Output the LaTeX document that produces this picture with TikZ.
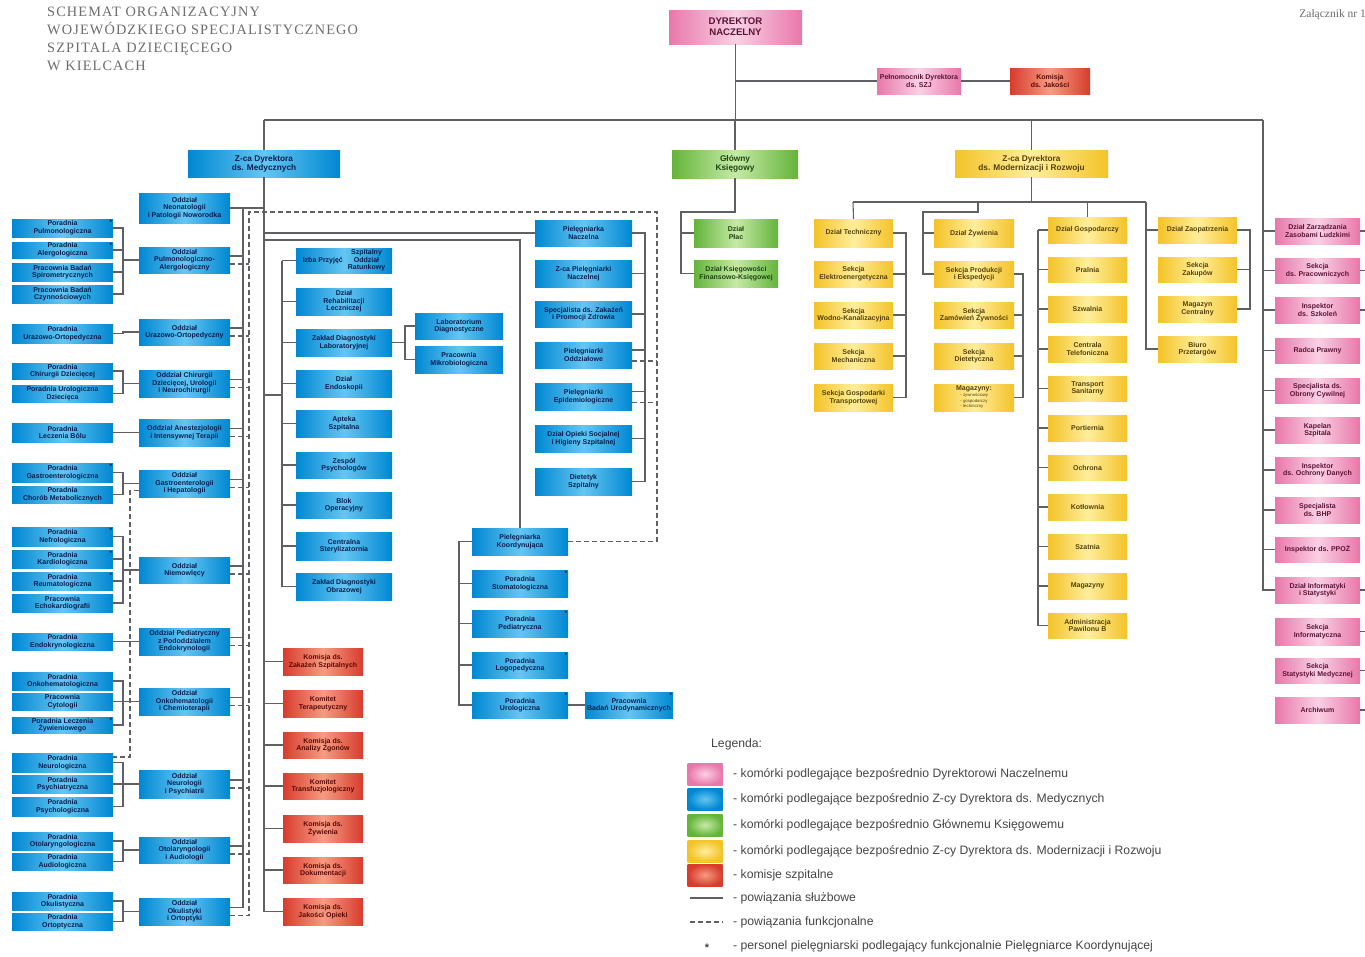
\documentclass[tikz,border=0pt]{standalone}
\usepackage{fontspec}
\setmainfont{Liberation Sans}
\newfontfamily\titf{Liberation Serif}[LetterSpace=8]
\newfontfamily\zalf{Liberation Serif}
\newfontfamily\bxfam{Liberation Sans}
\usetikzlibrary{calc}

\definecolor{lnC}{RGB}{95,95,100}
\definecolor{bE}{RGB}{0,135,210}
\definecolor{bM}{RGB}{100,198,242}
\definecolor{bTx}{RGB}{10,30,80}
\definecolor{pE}{RGB}{232,120,170}
\definecolor{pM}{RGB}{250,208,228}
\definecolor{pTx}{RGB}{90,20,55}
\definecolor{gE}{RGB}{100,180,60}
\definecolor{gM}{RGB}{198,234,165}
\definecolor{gTx}{RGB}{30,70,20}
\definecolor{yE}{RGB}{243,195,40}
\definecolor{yM}{RGB}{255,238,155}
\definecolor{yTx}{RGB}{85,65,10}
\definecolor{rE}{RGB}{215,60,45}
\definecolor{rM}{RGB}{246,155,130}
\definecolor{rTx}{RGB}{90,10,5}
\definecolor{txG}{RGB}{70,70,70}
\definecolor{tiG}{RGB}{110,110,110}

\tikzset{
  bxb/.style={draw=none, align=center, inner sep=0.5pt, font=\bxfam\bfseries\fontsize{7}{7.6}\selectfont},
  big/.style={font=\bxfam\bfseries\fontsize{8.3}{9.2}\selectfont},
  huge/.style={font=\bxfam\bfseries\fontsize{9.6}{11}\selectfont},
  blu/.style={bxb, left color=bE, right color=bE, middle color=bM, text=bTx},
  pnk/.style={bxb, left color=pE, right color=pE, middle color=pM, text=pTx},
  grn/.style={bxb, left color=gE, right color=gE, middle color=gM, text=gTx},
  ylw/.style={bxb, left color=yE, right color=yE, middle color=yM, text=yTx},
  kom/.style={bxb, left color=rE, right color=rE, middle color=rM, text=rTx},
  ast/.style={label={[anchor=north east, inner sep=0.8pt, font=\bxfam\bfseries\fontsize{6.5}{6.5}\selectfont, text=bTx]north east:*}},
  ln/.style={draw=lnC, line width=1.1pt},
  dl/.style={ln, dash pattern=on 5pt off 3pt},
  lgt/.style={anchor=west, inner sep=0pt, font=\fontsize{12.2}{14}\selectfont, text=txG},
  lgsq/.style={minimum width=35pt, minimum height=22pt, inner sep=0pt, draw=none}
}

\newcommand\BX[7]{\node[#2, minimum width={(#5-#3)*1pt}, minimum height={(#6-#4)*1pt}] (#1) at ({(#3+#5)/2},{(#4+#6)/2}) {#7};}

\begin{document}
\begin{tikzpicture}[x=1pt,y=-1pt]
\useasboundingbox (0,0) rectangle (1365,956);
\fill[white] (0,0) rectangle (1365,956);

% title
\node[anchor=north west, inner sep=0pt, align=left, text=tiG, font=\titf\fontsize{14.3}{18}\selectfont] (title) at (47,7)
  {SCHEMAT ORGANIZACYJNY\\WOJEWÓDZKIEGO SPECJALISTYCZNEGO\\SZPITALA DZIECIĘCEGO\\W KIELCACH};
\node[anchor=north east, inner sep=0pt, text=tiG, font=\zalf\fontsize{11.5}{13}\selectfont] (zal) at (1366,9) {Załącznik nr 1};

% top level
\BX{dn}{pnk,huge}{669}{10}{802}{44}{DYREKTOR\\NACZELNY}
\BX{ps}{pnk}{877}{68}{961}{94}{Pełnomocnik Dyrektora\\ds. SZJ}
\BX{ks}{kom}{1010}{68}{1090}{94}{Komisja\\ds. Jakości}
\BX{zm}{blu,big}{188}{150}{340}{177}{Z-ca Dyrektora\\ds. Medycznych}
\BX{g0}{grn,big}{672}{150}{798}{178}{Główny\\Księgowy}
\BX{y0}{ylw,big}{955}{150}{1108}{177}{Z-ca Dyrektora\\ds. Modernizacji i Rozwoju}

% left poradnie
\BX{p2a}{blu,ast}{12}{219}{113}{237}{Poradnia\\Pulmonologiczna}
\BX{p2b}{blu,ast}{12}{242}{113}{258}{Poradnia\\Alergologiczna}
\BX{p2c}{blu}{12}{263}{113}{281}{Pracownia Badań\\Spirometrycznych}
\BX{p2d}{blu}{12}{285}{113}{303}{Pracownia Badań\\Czynnościowych}
\BX{p3a}{blu}{12}{324}{113}{343}{Poradnia\\Urazowo-Ortopedyczna}
\BX{p4a}{blu}{12}{363}{113}{379}{Poradnia\\Chirurgii Dziecięcej}
\BX{p4b}{blu}{12}{385}{113}{402}{Poradnia Urologiczna\\Dziecięca}
\BX{p5a}{blu}{12}{423}{113}{442}{Poradnia\\Leczenia Bólu}
\BX{p6a}{blu,ast}{12}{463}{113}{482}{Poradnia\\Gastroenterologiczna}
\BX{p6b}{blu}{12}{486}{113}{503}{Poradnia\\Chorób Metabolicznych}
\BX{p7a}{blu,ast}{12}{527}{113}{546}{Poradnia\\Nefrologiczna}
\BX{p7b}{blu,ast}{12}{550}{113}{568}{Poradnia\\Kardiologiczna}
\BX{p7c}{blu,ast}{12}{572}{113}{590}{Poradnia\\Reumatologiczna}
\BX{p7d}{blu}{12}{594}{113}{612}{Pracownia\\Echokardiografii}
\BX{p8a}{blu}{12}{633}{113}{650}{Poradnia\\Endokrynologiczna}
\BX{p9a}{blu}{12}{672}{113}{690}{Poradnia\\Onkohematologiczna}
\BX{p9b}{blu}{12}{693}{113}{710}{Pracownia\\Cytologii}
\BX{p9c}{blu,ast}{12}{717}{113}{733}{Poradnia Leczenia\\Żywieniowego}
\BX{p10a}{blu}{12}{753}{113}{772}{Poradnia\\Neurologiczna}
\BX{p10b}{blu}{12}{775}{113}{793}{Poradnia\\Psychiatryczna}
\BX{p10c}{blu}{12}{797}{113}{816}{Poradnia\\Psychologiczna}
\BX{p11a}{blu}{12}{832}{113}{850}{Poradnia\\Otolaryngologiczna}
\BX{p11b}{blu}{12}{853}{113}{870}{Poradnia\\Audiologiczna}
\BX{p12a}{blu}{12}{892}{113}{910}{Poradnia\\Okulistyczna}
\BX{p12b}{blu}{12}{913}{113}{930}{Poradnia\\Ortoptyczna}

% oddzialy
\BX{o1}{blu}{139}{193}{230}{223}{Oddział\\Neonatologii\\i Patologii Noworodka}
\BX{o2}{blu}{139}{247}{230}{273}{Oddział\\Pulmonologiczno-\\Alergologiczny}
\BX{o3}{blu}{139}{319}{230}{345}{Oddział\\Urazowo-Ortopedyczny}
\BX{o4}{blu}{139}{370}{230}{397}{Oddział Chirurgii\\Dziecięcej, Urologii\\i Neurochirurgii}
\BX{o5}{blu}{139}{419}{230}{446}{Oddział Anestezjologii\\i Intensywnej Terapii}
\BX{o6}{blu}{139}{470}{230}{497}{Oddział\\Gastroenterologii\\i Hepatologii}
\BX{o7}{blu}{139}{557}{230}{583}{Oddział\\Niemowlęcy}
\BX{o8}{blu}{139}{628}{230}{655}{Oddział Pediatryczny\\z Pododdziałem\\Endokrynologii}
\BX{o9}{blu}{139}{688}{230}{715}{Oddział\\Onkohematologii\\i Chemioterapii}
\BX{o10}{blu}{139}{770}{230}{798}{Oddział\\Neurologii\\i Psychiatrii}
\BX{o11}{blu}{139}{837}{230}{863}{Oddział\\Otolaryngologii\\i Audiologii}
\BX{o12}{blu}{139}{898}{230}{925}{Oddział\\Okulistyki\\i Ortoptyki}

% middle column
\BX{m1}{blu}{296}{248}{392}{273}{Izba Przyjęć\hspace{5pt}\begin{tabular}{@{}c@{}}Szpitalny\\Oddział\\Ratunkowy\end{tabular}}
\BX{m2}{blu}{296}{288}{392}{315}{Dział\\Rehabilitacji\\Leczniczej}
\BX{m3}{blu}{296}{329}{392}{356}{Zakład Diagnostyki\\Laboratoryjnej}
\BX{m4}{blu}{296}{370}{392}{397}{Dział\\Endoskopii}
\BX{m5}{blu}{296}{410}{392}{437}{Apteka\\Szpitalna}
\BX{m6}{blu}{296}{452}{392}{478}{Zespół\\Psychologów}
\BX{m7}{blu}{296}{492}{392}{518}{Blok\\Operacyjny}
\BX{m8}{blu}{296}{532}{392}{560}{Centralna\\Sterylizatornia}
\BX{m9}{blu}{296}{573}{392}{600}{Zakład Diagnostyki\\Obrazowej}
\BX{l1}{blu}{415}{313}{503}{339}{Laboratorium\\Diagnostyczne}
\BX{l2}{blu}{415}{346}{503}{373}{Pracownia\\Mikrobiologiczna}

% nursing column
\BX{n1}{blu}{535}{220}{632}{246}{Pielęgniarka\\Naczelna}
\BX{n2}{blu}{535}{260}{632}{287}{Z-ca Pielęgniarki\\Naczelnej}
\BX{n3}{blu}{535}{301}{632}{327}{Specjalista ds. Zakażeń\\i Promocji Zdrowia}
\BX{n4}{blu}{535}{342}{632}{368}{Pielęgniarki\\Oddziałowe}
\BX{n5}{blu}{535}{383}{632}{410}{Pielęgniarki\\Epidemiologiczne}
\BX{n6}{blu}{535}{425}{632}{452}{Dział Opieki Socjalnej\\i Higieny Szpitalnej}
\BX{n7}{blu}{535}{468}{632}{495}{Dietetyk\\Szpitalny}
\BX{pk}{blu}{472}{528}{568}{555}{Pielęgniarka\\Koordynująca}
\BX{q1}{blu,ast}{472}{570}{568}{597}{Poradnia\\Stomatologiczna}
\BX{q2}{blu,ast}{472}{610}{568}{637}{Poradnia\\Pediatryczna}
\BX{q3}{blu,ast}{472}{652}{568}{678}{Poradnia\\Logopedyczna}
\BX{q4}{blu,ast}{472}{692}{568}{718}{Poradnia\\Urologiczna}
\BX{q5}{blu,ast}{585}{692}{673}{718}{Pracownia\\Badań Urodynamicznych}

% komisje
\BX{r1}{kom}{283}{648}{363}{675}{Komisja ds.\\Zakażeń Szpitalnych}
\BX{r2}{kom}{283}{690}{363}{717}{Komitet\\Terapeutyczny}
\BX{r3}{kom}{283}{732}{363}{758}{Komisja ds.\\Analizy Zgonów}
\BX{r4}{kom}{283}{773}{363}{799}{Komitet\\Transfuzjologiczny}
\BX{r5}{kom}{283}{815}{363}{842}{Komisja ds.\\Żywienia}
\BX{r6}{kom}{283}{857}{363}{883}{Komisja ds.\\Dokumentacji}
\BX{r7}{kom}{283}{898}{363}{925}{Komisja ds.\\Jakości Opieki}

% green
\BX{g1}{grn}{694}{219}{778}{247}{Dział\\Płac}
\BX{g2}{grn}{694}{260}{778}{287}{Dział Księgowości\\Finansowo-Księgowej}

% yellow
\BX{a1}{ylw}{814}{219}{893}{247}{Dział Techniczny}
\BX{a2}{ylw}{814}{261}{893}{287}{Sekcja\\Elektroenergetyczna}
\BX{a3}{ylw}{814}{302}{893}{328}{Sekcja\\Wodno-Kanalizacyjna}
\BX{a4}{ylw}{814}{343}{893}{369}{Sekcja\\Mechaniczna}
\BX{a5}{ylw}{814}{384}{893}{411}{Sekcja Gospodarki\\Transportowej}
\BX{b1}{ylw}{934}{219}{1014}{247}{Dział Żywienia}
\BX{b2}{ylw}{934}{261}{1014}{287}{Sekcja Produkcji\\i Ekspedycji}
\BX{b3}{ylw}{934}{302}{1014}{328}{Sekcja\\Zamówień Żywności}
\BX{b4}{ylw}{934}{343}{1014}{369}{Sekcja\\Dietetyczna}
\BX{b5}{ylw}{934}{384}{1014}{411}{\begin{tabular}{@{}l@{}}Magazyny:\\[-1.5pt]{\mdseries\fontsize{4.3}{4.6}\selectfont\quad - żywnościowy}\\[-2.5pt]{\mdseries\fontsize{4.3}{4.6}\selectfont\quad - gospodarczy}\\[-2.5pt]{\mdseries\fontsize{4.3}{4.6}\selectfont\quad - techniczny}\end{tabular}}
\BX{c1}{ylw}{1048}{217}{1127}{243}{Dział Gospodarczy}
\BX{c2}{ylw}{1048}{257}{1127}{282}{Pralnia}
\BX{c3}{ylw}{1048}{296}{1127}{322}{Szwalnia}
\BX{c4}{ylw}{1048}{336}{1127}{362}{Centrala\\Telefoniczna}
\BX{c5}{ylw}{1048}{376}{1127}{401}{Transport\\Sanitarny}
\BX{c6}{ylw}{1048}{415}{1127}{441}{Portiernia}
\BX{c7}{ylw}{1048}{455}{1127}{480}{Ochrona}
\BX{c8}{ylw}{1048}{494}{1127}{520}{Kotłownia}
\BX{c9}{ylw}{1048}{534}{1127}{559}{Szatnia}
\BX{c10}{ylw}{1048}{573}{1127}{599}{Magazyny}
\BX{c11}{ylw}{1048}{613}{1127}{638}{Administracja\\Pawilonu B}
\BX{d1}{ylw}{1158}{217}{1237}{243}{Dział Zaopatrzenia}
\BX{d2}{ylw}{1158}{257}{1237}{282}{Sekcja\\Zakupów}
\BX{d3}{ylw}{1158}{296}{1237}{322}{Magazyn\\Centralny}
\BX{d4}{ylw}{1158}{336}{1237}{362}{Biuro\\Przetargów}

% pink column
\BX{k1}{pnk}{1275}{218}{1360}{244}{Dział Zarządzania\\Zasobami Ludzkimi}
\BX{k2}{pnk}{1275}{258}{1360}{283}{Sekcja\\ds. Pracowniczych}
\BX{k3}{pnk}{1275}{297}{1360}{323}{Inspektor\\ds. Szkoleń}
\BX{k4}{pnk}{1275}{338}{1360}{363}{Radca Prawny}
\BX{k5}{pnk}{1275}{378}{1360}{403}{Specjalista ds.\\Obrony Cywilnej}
\BX{k6}{pnk}{1275}{417}{1360}{443}{Kapelan\\Szpitala}
\BX{k7}{pnk}{1275}{457}{1360}{483}{Inspektor\\ds. Ochrony Danych}
\BX{k8}{pnk}{1275}{497}{1360}{523}{Specjalista\\ds. BHP}
\BX{k9}{pnk}{1275}{537}{1360}{562}{Inspektor ds. PPOŻ}
\BX{k10}{pnk}{1275}{577}{1360}{603}{Dział Informatyki\\i Statystyki}
\BX{k11}{pnk}{1275}{618}{1360}{645}{Sekcja\\Informatyczna}
\BX{k12}{pnk}{1275}{658}{1360}{683}{Sekcja\\Statystyki Medycznej}
\BX{k13}{pnk}{1275}{697}{1360}{723}{Archiwum}

% ---------- connectors ----------
\coordinate (tL) at (264,120);
\coordinate (tR) at (1263,120);
\coordinate (rEdge) at (1365,0);
\draw[ln] (dn.south) -- (dn.south |- tL);
\draw[ln] (ps.west -| dn.south) -- (ps.west);
\draw[ln] (ps.east) -- (ks.west);
\draw[ln] (tL) -- (tR);
\draw[ln] (tL) -- (zm.north);
\draw[ln] (g0.north |- tL) -- (g0.north);
\draw[ln] (y0.north |- tL) -- (y0.north);
\draw[ln] (tR) -- (tR |- k10.west) -- (k10.west);
\foreach \k in {1,...,9} \draw[ln] (k\k.west) -- (k\k.west -| tR);
\foreach \k in {1,2,3,10,11,12,13} \draw[ln] (k\k.east) -- (k\k.east -| rEdge);

% medical spine
\draw[ln] (zm.south) -- (zm.south |- r7.west);
\foreach \i in {1,...,7} \draw[ln] (r\i.west) -- (r\i.west -| zm.south);

% oddzialy buses
\coordinate (sV) at (243,0);
\coordinate (dV) at (249,0);
\coordinate (bLft) at (123,0);
\draw[ln] (o1.east) -- (o1.east -| zm.south);
\foreach \i in {2,...,12}{
  \path (o\i.east) ++(0,-4) coordinate (s\i) ++(0,8) coordinate (t\i);
  \draw[ln] (s\i) -- (s\i -| sV);
  \draw[dl] (t\i) -- (t\i -| dV);
}
\draw[ln] (o1.east -| sV) -- (s12 -| sV);
\coordinate (dTR) at (657,212);
\draw[dl] (pk.east) -- (pk.east -| dTR) -- (dTR) -- (dTR -| dV) -- (t12 -| dV);

% left groups
\draw[ln] (p2a.east) -- (p2a.east -| bLft) -- (p2d.east -| bLft) -- (p2d.east);
\foreach \j in {b,c} \draw[ln] (p2\j.east) -- (p2\j.east -| bLft);
\draw[ln] (o2.west) -- (o2.west -| bLft);
\draw[ln] (p3a.east) -- (p3a.east -| bLft) |- (o3.west);
\draw[ln] (p4a.east) -- (p4a.east -| bLft) -- (p4b.east -| bLft) -- (p4b.east);
\draw[ln] (o4.west) -- (o4.west -| bLft);
\draw[ln] (p5a.east) -- (o5.west);
\draw[ln] (p6a.east) -- (p6a.east -| bLft) -- (p6b.east -| bLft) -- (p6b.east);
\draw[ln] (o6.west) -- (o6.west -| bLft);
\draw[ln] (p7a.east) -- (p7a.east -| bLft) -- (p7d.east -| bLft) -- (p7d.east);
\foreach \j in {b,c} \draw[ln] (p7\j.east) -- (p7\j.east -| bLft);
\draw[ln] (o7.west) -- (o7.west -| bLft);
\draw[ln] (p8a.east) -- (o8.west);
\draw[ln] (p9a.east) -- (p9a.east -| bLft) -- (p9c.east -| bLft) -- (p9c.east);
\draw[ln] (p9b.east) -- (p9b.east -| bLft);
\draw[ln] (o9.west) -- (o9.west -| bLft);
\draw[ln] (p10a.east) -- (p10a.east -| bLft) -- (p10c.east -| bLft) -- (p10c.east);
\draw[ln] (p10b.east) -- (p10b.east -| bLft);
\draw[ln] (o10.west) -- (o10.west -| bLft);
\draw[ln] (p11a.east) -- (p11a.east -| bLft) -- (p11b.east -| bLft) -- (p11b.east);
\draw[ln] (o11.west) -- (o11.west -| bLft);
\draw[ln] (p12a.east) -- (p12a.east -| bLft) -- (p12b.east -| bLft) -- (p12b.east);
\draw[ln] (o12.west) -- (o12.west -| bLft);
\coordinate (dX) at (130,757);
\path (o6.west) ++(0,7) coordinate (o6d);
\draw[dl] (o6d) -| (dX) -- (dX -| p10a.east);

% middle column
\coordinate (mB) at (282,0);
\draw[ln] (m1.west -| mB) -- (m9.west -| mB);
\foreach \i in {1,...,9} \draw[ln] (m\i.west) -- (m\i.west -| mB);
\coordinate (mj) at (282,395);
\draw[ln] (mj) -- (mj -| zm.south);
\coordinate (lB) at (405,0);
\draw[ln] (m3.east) -- (m3.east -| lB);
\draw[ln] (l1.west) -- (l1.west -| lB) -- (l2.west -| lB) -- (l2.west);

% nursing
\draw[ln] (n1.west) -- (n1.west -| zm.south);
\coordinate (kc) at (520,240);
\draw[ln] (kc -| zm.south) -- (kc) -- (pk.north);
\coordinate (nB) at (645,0);
\draw[ln] (n1.east) -- (n1.east -| nB) -- (n7.east -| nB) -- (n7.east);
\foreach \i in {2,3,6} \draw[ln] (n\i.east) -- (n\i.east -| nB);
\foreach \i in {4,5}{
  \path (n\i.east) ++(0,-5) coordinate (ns\i) ++(0,11) coordinate (nt\i);
  \draw[ln] (ns\i) -- (ns\i -| nB);
  \draw[dl] (nt\i) -- (nt\i -| dTR);
}
\coordinate (qB) at (459,0);
\draw[ln] (pk.west) -- (pk.west -| qB) -- (q4.west -| qB) -- (q4.west);
\foreach \i in {1,2,3} \draw[ln] (q\i.west) -- (q\i.west -| qB);
\draw[ln] (q4.east) -- (q5.west);

% green
\coordinate (gC) at (681,212);
\draw[ln] (g0.south) -- (g0.south |- gC) -- (gC) -- (gC |- g2.west) -- (g2.west);
\draw[ln] (g1.west) -- (g1.west -| gC);

% yellow
\coordinate (yb) at (853,202);
\coordinate (ye) at (1146,202);
\draw[ln] (y0.south) -- (y0.south |- yb);
\draw[ln] (yb) -- (ye);
\draw[ln] (yb) -- (a1.north);
\coordinate (aB) at (906,0);
\draw[ln] (a1.east) -- (a1.east -| aB) -- (a5.east -| aB) -- (a5.east);
\foreach \i in {2,3,4} \draw[ln] (a\i.east) -- (a\i.east -| aB);
\coordinate (bTop) at (978,212);
\coordinate (bLx) at (923,212);
\draw[ln] (bTop |- yb) -- (bTop) -- (bLx) -- (bLx |- b2.west) -- (b2.west);
\draw[ln] (b1.west) -- (b1.west -| bLx);
\coordinate (bR) at (1023,0);
\draw[ln] (b2.east) -- (b2.east -| bR) -- (b5.east -| bR) -- (b5.east);
\foreach \i in {3,4} \draw[ln] (b\i.east) -- (b\i.east -| bR);
\draw[ln] (c1.north |- yb) -- (c1.north);
\coordinate (cB) at (1038,0);
\draw[ln] (c1.west -| cB) -- (c11.west -| cB);
\foreach \i in {1,...,11} \draw[ln] (c\i.west) -- (c\i.west -| cB);
\draw[ln] (ye) -- (ye |- d4.west) -- (d4.west);
\draw[ln] (d1.west) -- (d1.west -| ye);
\coordinate (dB) at (1250,0);
\draw[ln] (d1.east) -- (d1.east -| dB) -- (d3.east -| dB) -- (d3.east);
\draw[ln] (d2.east) -- (d2.east -| dB);

% ---------- legend ----------
\node[lgt] (lgh) at (711,744) {Legenda:};
\node[lgsq, inner color=pM, outer color=pE] (L1) at (705,774) {};
\node[lgsq, inner color=bM, outer color=bE] (L2) at (705,799) {};
\node[lgsq, inner color=gM, outer color=gE] (L3) at (705,825) {};
\node[lgsq, inner color=yM, outer color=yE] (L4) at (705,851) {};
\node[lgsq, inner color=rM, outer color=rE] (L5) at (705,875) {};
\node[lgt] (T1) at (733,774) {- komórki podlegające bezpośrednio Dyrektorowi Naczelnemu};
\node[lgt] (T2) at (733,799) {- komórki podlegające bezpośrednio Z-cy Dyrektora ds. Medycznych};
\node[lgt] (T3) at (733,825) {- komórki podlegające bezpośrednio Głównemu Księgowemu};
\node[lgt] (T4) at (733,851) {- komórki podlegające bezpośrednio Z-cy Dyrektora ds. Modernizacji i Rozwoju};
\node[lgt] (T5) at (733,875) {- komisje szpitalne};
\coordinate (La) at (690,898); \coordinate (Lb) at (723,898);
\draw[ln] (La) -- (Lb);
\node[lgt] (T6) at (733,898) {- powiązania służbowe};
\coordinate (Lc) at (690,922); \coordinate (Ld) at (723,922);
\draw[dl] (Lc) -- (Ld);
\node[lgt] (T7) at (733,922) {- powiązania funkcjonalne};
\node[inner sep=0pt, font=\bfseries\fontsize{11}{11}\selectfont, text=txG] (L8) at (707,948) {*};
\node[lgt] (T8) at (733,946) {- personel pielęgniarski podlegający funkcjonalnie Pielęgniarce Koordynującej};
\end{tikzpicture}
\end{document}
